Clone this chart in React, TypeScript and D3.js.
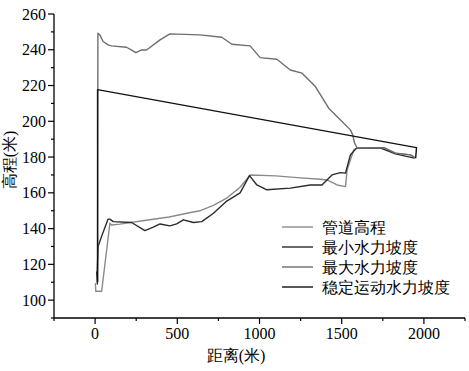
import React from 'react';
import * as d3 from 'd3';

// 管道高程
const pipeDist = [2, 4, 40, 90, 100, 150, 300, 450, 580, 640, 720, 800, 880, 944, 1100, 1230, 1370, 1411, 1472, 1523, 1533, 1573, 1594, 1756, 1827, 1919, 1948];
const pipeElev = [109.5, 105, 105, 143, 142, 142.5, 144.5, 146.5, 149, 150, 153, 157, 163, 170, 169.5, 168.5, 167.6, 167.2, 164.4, 163.5, 172.8, 184, 185, 185.3, 182.2, 181.2, 179.4];
// 最小水力坡度
const minDist = [9, 14, 12, 18, 39, 79, 90, 110, 222, 303, 354, 395, 455, 496, 537, 598, 649, 720, 801, 882, 939, 984, 1045, 1187, 1309, 1380, 1441, 1492, 1523, 1553, 1590, 1737, 1827, 1942];
const minElev = [116, 109, 112, 130, 135.5, 145.3, 145.3, 143.9, 143.4, 138.9, 140.8, 142.6, 141.5, 142.6, 144.9, 143.4, 143.9, 148.6, 155.4, 160, 169.6, 164.4, 161.7, 162.6, 164.4, 164.4, 170, 171.3, 171, 181.2, 185, 185, 181.8, 179.4];
// 最大水力坡度
const maxDist = [15, 17, 29, 49, 79, 100, 191, 228, 248, 283, 313, 395, 455, 638, 771, 832, 943, 1004, 1106, 1187, 1259, 1340, 1421, 1482, 1553, 1567, 1578, 1594, 1756, 1827, 1919, 1948];
const maxElev = [110, 249.2, 248.3, 244.6, 242.7, 242.2, 241.4, 239.5, 238.4, 239.9, 239.9, 245.5, 248.9, 248.3, 247, 243.1, 242.2, 235.6, 234.7, 228.7, 226.9, 219.4, 207.3, 201.7, 195.2, 192.4, 188, 185, 185.3, 182.2, 181.2, 179.4];
// 稳定运动水力坡度
const stableDist = [15, 15, 1955, 1950];
const stableElev = [110, 217.7, 185.3, 179.4];

const xTicks = [0, 500, 1000, 1500, 2000];
const yTicks = [100, 120, 140, 160, 180, 200, 220, 240, 260];

const seriesNames = ['管道高程', '最小水力坡度', '最大水力坡度', '稳定运动水力坡度'];
const seriesColors = ['#8a8a8a', '#2a2a2a', '#6e6e6e', '#111111'];

const W = 469;
const H = 371;
const margin = { left: 54, right: 4, top: 14, bottom: 53 };

export default function App() {
  const x = d3.scaleLinear().domain([-250, 2250]).range([margin.left, W - margin.right]);
  const y = d3.scaleLinear().domain([90, 260]).range([H - margin.bottom, margin.top]);

  const line = d3.line<[number, number]>().x(d => x(d[0])).y(d => y(d[1]));
  const zip = (a: number[], b: number[]) => a.map((v, i) => [v, b[i]] as [number, number]);
  const series = [
    zip(pipeDist, pipeElev),
    zip(minDist, minElev),
    zip(maxDist, maxElev),
    zip(stableDist, stableElev),
  ];

  const xMinor = d3.range(-250, 2251, 250).filter(v => !xTicks.includes(v));
  const yMinor = d3.range(90, 261, 10).filter(v => !yTicks.includes(v));
  const x0 = margin.left;
  const yb = H - margin.bottom;
  const numFont = 'serif';
  const cjkFont = 'serif';

  return (
    <svg width={W} height={H} style={{ position: 'absolute', left: 0, top: 0 }}>
      <rect width={W} height={H} fill="#fff" />
      {series.map((s, i) => (
        <path key={i} d={line(s) || ''} fill="none" stroke={seriesColors[i]}
          strokeWidth={1.4} strokeLinejoin="round" />
      ))}
      {/* axes */}
      <line x1={x0} x2={x0} y1={margin.top} y2={yb} stroke="#000" strokeWidth={1.3} />
      <line x1={x0} x2={W - margin.right} y1={yb} y2={yb} stroke="#000" strokeWidth={1.3} />
      {yTicks.map(t => (
        <g key={t}>
          <line x1={x0 - 6} x2={x0} y1={y(t)} y2={y(t)} stroke="#000" strokeWidth={1.2} />
          <text x={x0 - 8} y={y(t)} dy="0.35em" textAnchor="end" fontFamily={numFont} fontSize={16}>{t}</text>
        </g>
      ))}
      {yMinor.map(t => (
        <line key={t} x1={x0 - 3} x2={x0} y1={y(t)} y2={y(t)} stroke="#000" strokeWidth={1.2} />
      ))}
      {xTicks.map(t => (
        <g key={t}>
          <line x1={x(t)} x2={x(t)} y1={yb} y2={yb + 6} stroke="#000" strokeWidth={1.2} />
          <text x={x(t)} y={yb + 21} textAnchor="middle" fontFamily={numFont} fontSize={16}>{t}</text>
        </g>
      ))}
      {xMinor.map(t => (
        <line key={t} x1={x(t)} x2={x(t)} y1={yb} y2={yb + 3} stroke="#000" strokeWidth={1.2} />
      ))}
      <text x={236} y={361} textAnchor="middle" fontFamily={cjkFont} fontSize={16}>距离(米)</text>
      <text transform="translate(15,160) rotate(-90)" textAnchor="middle" fontFamily={cjkFont} fontSize={16}>高程(米)</text>
      {/* legend */}
      {seriesNames.map((n, i) => (
        <g key={n} transform={`translate(282,${227 + i * 20})`}>
          <line x1={0} x2={31} y1={0} y2={0} stroke={seriesColors[i]} strokeWidth={1.4} />
          <text x={40} y={0} dy="0.35em" fontFamily={cjkFont} fontSize={16}>{n}</text>
        </g>
      ))}
    </svg>
  );
}
